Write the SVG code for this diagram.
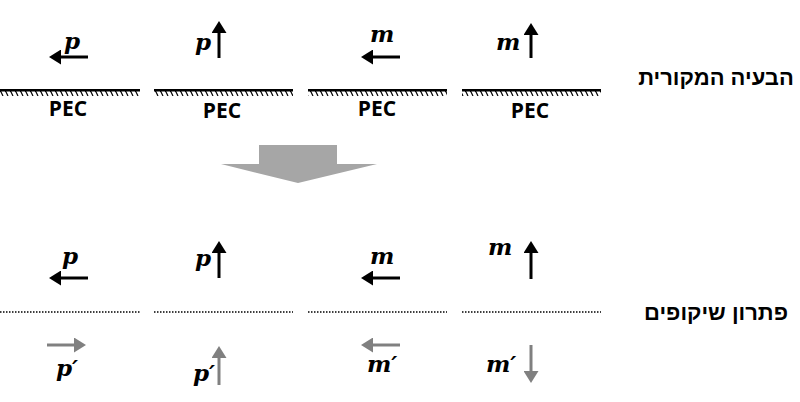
<svg xmlns="http://www.w3.org/2000/svg" width="800" height="402" viewBox="0 0 800 402">
<defs>
<marker id="ab" markerWidth="5" markerHeight="5" refX="1" refY="2.5" orient="auto" markerUnits="strokeWidth"><path d="M0,0 L4,2.5 L0,5 z" fill="#000"/></marker>
<marker id="ag" markerWidth="5" markerHeight="5" refX="1" refY="2.5" orient="auto" markerUnits="strokeWidth"><path d="M0,0 L4,2.5 L0,5 z" fill="#808080"/></marker>
<pattern id="h" width="5" height="6" patternUnits="userSpaceOnUse"><path d="M0,0 L3,6" stroke="#000" stroke-width="1.2"/></pattern>
</defs>
<style>
.b{stroke:#000;stroke-width:3;marker-end:url(#ab);fill:none}
.g{stroke:#808080;stroke-width:3;marker-end:url(#ag);fill:none}
.dot{stroke:#000;stroke-width:1.5;stroke-dasharray:1.5 1.5}
</style>
<g id="ground">
<rect x="0" y="89" width="140" height="2.5"/><rect x="0" y="91" width="140" height="5" fill="url(#h)"/>
<rect x="154" y="89" width="139" height="2.5"/><rect x="154" y="91" width="139" height="5" fill="url(#h)"/>
<rect x="308" y="89" width="139" height="2.5"/><rect x="308" y="91" width="139" height="5" fill="url(#h)"/>
<rect x="462" y="89" width="139" height="2.5"/><rect x="462" y="91" width="139" height="5" fill="url(#h)"/>
<g font-family="Open Sans, Liberation Sans, sans-serif" font-weight="bold" font-size="21" text-anchor="middle">
<text x="68" y="116">PEC</text><text x="222" y="118">PEC</text>
<text x="377" y="116">PEC</text><text x="530" y="118">PEC</text>
</g>
</g>
<g id="planes">
<line class="dot" x1="0" y1="312" x2="140" y2="312"/><line class="dot" x1="154" y1="312" x2="293" y2="312"/>
<line class="dot" x1="308" y1="312" x2="447" y2="312"/><line class="dot" x1="462" y1="312" x2="601" y2="312"/>
</g>
<g id="connectors">
<line class="b" x1="88" y1="57" x2="58" y2="57"/>
<line class="b" x1="219" y1="58" x2="219" y2="30"/>
<line class="b" x1="400" y1="57" x2="370" y2="57"/>
<line class="b" x1="531" y1="58" x2="531" y2="32"/>
<line class="b" x1="88" y1="278" x2="58" y2="278"/>
<line class="b" x1="219" y1="278" x2="219" y2="250"/>
<line class="b" x1="400" y1="278" x2="370" y2="278"/>
<line class="b" x1="531" y1="279" x2="531" y2="250"/>
<line class="g" x1="47" y1="345" x2="77" y2="345"/>
<line class="g" x1="219" y1="385" x2="219" y2="355"/>
<line class="g" x1="400" y1="345" x2="370" y2="345"/>
<line class="g" x1="531" y1="345" x2="531" y2="374"/>
</g>
<g id="labels" font-family="DejaVu Serif, serif" font-style="italic" font-weight="bold" font-size="23">
<text x="64" y="49">p</text><text x="195" y="50">p</text>
<text x="370" y="42">m</text><text x="496" y="50">m</text>
<text x="62" y="264">p</text><text x="195" y="266">p</text>
<text x="370" y="264">m</text><text x="488" y="255">m</text>
<text x="56" y="376">p′</text><text x="193" y="381">p′</text>
<text x="367" y="372">m′</text><text x="486" y="372">m′</text>
</g>
<g id="bigarrow"><path d="M259,145 H337 V164 H377 L298,183 L221,164 H259 Z" fill="#a6a6a6"/></g>
<g font-family="Liberation Sans, sans-serif" font-weight="bold" font-size="22" text-anchor="middle">
<text x="716" y="85" direction="rtl">הבעיה המקורית</text>
<text x="716" y="320" direction="rtl">פתרון שיקופים</text>
</g>
</svg>
